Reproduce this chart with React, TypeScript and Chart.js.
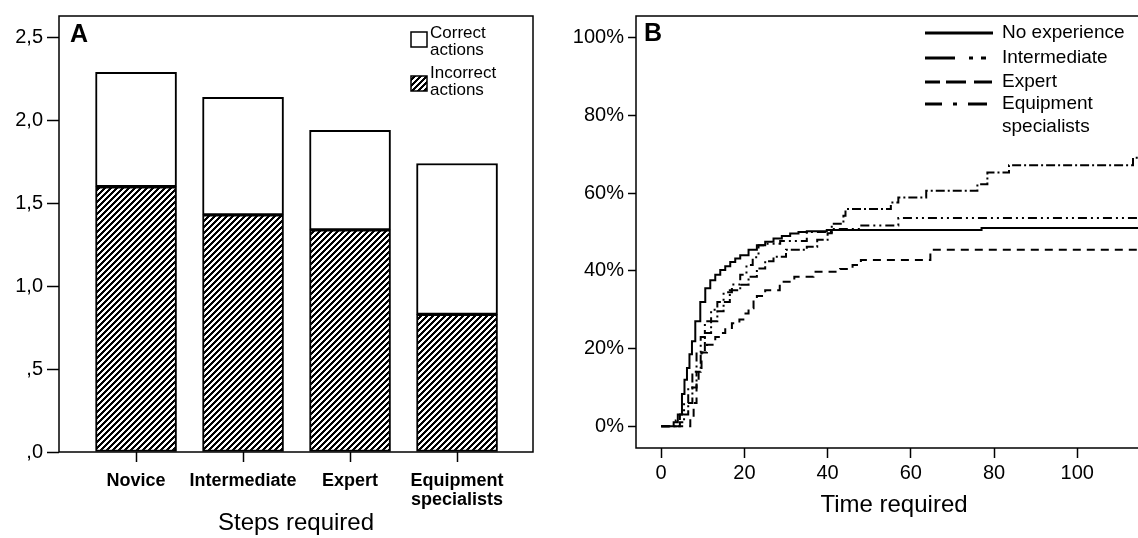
import React, { useEffect, useRef } from "react";
import { Chart, registerables } from "chart.js";
Chart.register(...registerables);

const FONT = '"Liberation Sans", Arial, Helvetica, sans-serif';

// ---------- Panel A data ----------
const categoryLabels: (string | string[])[] = ["Novice", "Intermediate", "Expert", ["Equipment", "specialists"]];
const incorrectActions = [1.60, 1.43, 1.34, 0.83];
const totalActions = [2.29, 2.14, 1.94, 1.74];
const yTicksA = [0, 0.5, 1, 1.5, 2, 2.5];
const yTickLabelsA = [",0", ",5", "1,0", "1,5", "2,0", "2,5"];
const legendA = [["Correct", "actions"], ["Incorrect", "actions"]];

// ---------- Panel B data ----------
const noExpT = [0, 2, 3, 4, 5, 5.6, 6.2, 6.8, 7.4, 8.2, 9.4, 10.6, 11.8, 13, 14.2, 15.4, 16.6, 17.8, 19, 21, 23, 25, 27, 29, 31, 33, 35, 39.8, 77, 114.6];
const noExpP = [0, 0, 1, 3, 8.3, 12, 15, 18.5, 21.9, 27, 32, 35.5, 37.6, 39, 40.2, 41.2, 42.3, 43.2, 44, 45.4, 46.6, 47.5, 48.3, 49, 49.6, 50, 50.2, 50.5, 51, 51];

const interT = [0, 2.5, 3.5, 4.5, 5.5, 6.5, 7.5, 8.5, 9.5, 10.5, 12, 13.5, 15, 17, 19, 20.5, 22, 23.4, 25, 28.6, 35, 41, 47.8, 57, 114.6];
const interP = [0, 0, 1.5, 3, 6, 10, 14, 19, 23, 27, 30, 32, 34.5, 36.5, 39, 41.5, 43.5, 46.6, 47, 47.7, 50, 50.8, 51.7, 53.6, 53.6];

const expertT = [0, 6.4, 7, 7.8, 8.5, 9, 9.7, 11, 13, 14.5, 15.4, 17, 18.8, 20, 21, 22.2, 23, 25, 28.5, 32, 36.6, 43, 46, 48, 64.7, 114.6];
const expertP = [0, 0, 2, 6, 11, 15, 19, 21, 23, 24, 25.3, 26.5, 27.5, 29, 30.4, 32.5, 33.5, 35, 37.2, 38.5, 39.8, 40.5, 41.5, 42.8, 45.4, 45.4];

const equipT = [0, 3, 4.5, 5.5, 6.5, 7.5, 8.5, 9.5, 10.5, 12, 13.5, 15, 16.5, 19, 21, 23, 25, 27, 30, 35, 37.5, 40, 41, 43.8, 44.3, 55.2, 57, 63.7, 76, 78.4, 83.6, 113.4, 114.6];
const equipP = [0, 0, 1, 3, 6, 10, 14, 19, 24, 27, 29.6, 32, 35, 36.4, 38.5, 40.6, 42.5, 43.6, 45.4, 46.2, 48, 49.7, 52.1, 54.2, 55.9, 57.6, 58.9, 60.6, 62.3, 65.3, 67.2, 69.1, 69.1];

const seriesNames = ["No experience", "Intermediate", "Expert", "Equipment specialists"];
const legendLinesB = [["No experience"], ["Intermediate"], ["Expert"], ["Equipment", "specialists"]];
const xTicksB = [0, 20, 40, 60, 80, 100];
const yTicksB = [0, 20, 40, 60, 80, 100];

const plotDash = [[], [9, 4, 2, 4, 2, 4], [8, 6], [9, 3, 2, 3]];
const legendDash = [[], [30, 14, 4, 8, 5, 100], [15, 6, 20, 8, 18, 100], [17, 11, 4, 11, 19, 100]];

const B_LEFT = 560;

function makeHatch(): CanvasPattern | string {
  const n = 6;
  const pc = document.createElement("canvas");
  pc.width = n;
  pc.height = n;
  const c = pc.getContext("2d");
  if (!c) return "#000";
  const img = c.createImageData(n, n);
  for (let y = 0; y < n; y++) {
    for (let x = 0; x < n; x++) {
      const white = (x + y) % n < 3;
      const i = (y * n + x) * 4;
      const v = white ? 255 : 0;
      img.data[i] = v;
      img.data[i + 1] = v;
      img.data[i + 2] = v;
      img.data[i + 3] = 255;
    }
  }
  c.putImageData(img, 0, 0);
  const p = c.createPattern(pc, "repeat");
  return p || "#000";
}

export default function App() {
  const refA = useRef<HTMLCanvasElement | null>(null);
  const refB = useRef<HTMLCanvasElement | null>(null);

  useEffect(() => {
    const hatch = makeHatch();
    const correctActions = totalActions.map((t, i) => +(t - incorrectActions[i]).toFixed(3));

    const panelAPlugin = {
      id: "panelA",
      afterDraw(chart: any) {
        const { ctx, chartArea } = chart;
        ctx.save();
        ctx.strokeStyle = "#000";
        ctx.lineWidth = 1.5;
        ctx.strokeRect(chartArea.left, chartArea.top, chartArea.right - chartArea.left, chartArea.bottom - chartArea.top);
        ctx.fillStyle = "#000";
        ctx.font = `bold 25px ${FONT}`;
        ctx.textAlign = "left";
        ctx.textBaseline = "middle";
        ctx.fillText("A", 70, 35);
        // legend
        ctx.lineWidth = 1.5;
        ctx.fillStyle = "#fff";
        ctx.fillRect(411, 32, 16, 15);
        ctx.strokeRect(411, 32, 16, 15);
        ctx.fillStyle = hatch as any;
        ctx.fillRect(411, 76, 16, 15);
        ctx.strokeRect(411, 76, 16, 15);
        ctx.fillStyle = "#000";
        ctx.font = `17px ${FONT}`;
        const rows = [[33, 50], [73, 90]];
        legendA.forEach((lines, k) => {
          lines.forEach((t, j) => ctx.fillText(t, 430, rows[k][j]));
        });
        ctx.restore();
      },
    };

    const chartA = new Chart(refA.current as HTMLCanvasElement, {
      type: "bar",
      data: {
        datasets: [
          {
            label: "Incorrect actions",
            data: incorrectActions.map((v, i) => ({ x: i, y: v })),
            backgroundColor: hatch as any,
            borderColor: "#000",
            borderWidth: 2,
            borderSkipped: false,
            barThickness: 81,
          },
          {
            label: "Correct actions",
            data: correctActions.map((v, i) => ({ x: i, y: v })),
            backgroundColor: "#fff",
            borderColor: "#000",
            borderWidth: 2,
            borderSkipped: false,
            barThickness: 81,
          },
        ],
      } as any,
      options: {
        animation: false,
        responsive: false,
        layout: { padding: { top: 10, right: 27, left: 0, bottom: 0 } },
        plugins: { legend: { display: false }, tooltip: { enabled: false } },
        scales: {
          x: {
            type: "linear",
            min: -0.72,
            max: 3.71,
            offset: false,
            stacked: true,
            afterBuildTicks: (s: any) => {
              s.ticks = categoryLabels.map((_, i) => ({ value: i }));
            },
            afterFit: (s: any) => {
              s.height = 86;
            },
            ticks: {
              callback: (v: any) => categoryLabels[Math.round(v)],
              font: { family: FONT, size: 18, weight: "bold", lineHeight: 1.05 },
              color: "#000",
              padding: 10,
              autoSkip: false,
              maxRotation: 0,
            },
            grid: { display: true, offset: false, drawOnChartArea: false, drawTicks: true, tickLength: 10, tickWidth: 1.5, tickColor: "#000" },
            border: { display: false },
            title: {
              display: true,
              text: "Steps required",
              font: { family: FONT, size: 24, lineHeight: 1.2 },
              color: "#000",
              padding: { top: 0, bottom: 0 },
            },
          },
          y: {
            type: "linear",
            min: 0,
            max: 2.63,
            stacked: true,
            afterBuildTicks: (s: any) => {
              s.ticks = yTicksA.map((v) => ({ value: v }));
            },
            afterFit: (s: any) => {
              s.width = 59;
            },
            ticks: {
              callback: (v: any) => yTickLabelsA[yTicksA.indexOf(v)],
              font: { family: FONT, size: 20 },
              color: "#000",
              padding: 4,
            },
            grid: { display: true, drawOnChartArea: false, drawTicks: true, tickLength: 12, tickWidth: 1.5, tickColor: "#000" },
            border: { display: false },
          },
        },
      } as any,
      plugins: [panelAPlugin],
    });

    const panelBPlugin = {
      id: "panelB",
      afterDraw(chart: any) {
        const { ctx, chartArea } = chart;
        const L = chartArea.left, T = chartArea.top, R = chart.width, Bm = chartArea.bottom;
        ctx.save();
        ctx.strokeStyle = "#000";
        ctx.lineWidth = 1.5;
        ctx.beginPath();
        ctx.moveTo(R, T);
        ctx.lineTo(L, T);
        ctx.lineTo(L, Bm);
        ctx.lineTo(R, Bm);
        ctx.stroke();
        ctx.fillStyle = "#000";
        ctx.font = `bold 25px ${FONT}`;
        ctx.textAlign = "left";
        ctx.textBaseline = "middle";
        ctx.fillText("B", 644 - B_LEFT, 34);
        // x axis title
        ctx.font = `24px ${FONT}`;
        ctx.textAlign = "center";
        ctx.fillText("Time required", 894 - B_LEFT, 505);
        // legend
        const rowY = [33, 58, 82, 104];
        ctx.textAlign = "left";
        ctx.font = `19px ${FONT}`;
        legendLinesB.forEach((lines, k) => {
          ctx.setLineDash(legendDash[k]);
          ctx.lineWidth = 3;
          ctx.beginPath();
          ctx.moveTo(925 - B_LEFT, rowY[k]);
          ctx.lineTo(993 - B_LEFT, rowY[k]);
          ctx.stroke();
          ctx.setLineDash([]);
          lines.forEach((t, j) => ctx.fillText(t, 1002 - B_LEFT, rowY[k] + j * 23));
        });
        ctx.restore();
      },
    };

    const seriesT = [noExpT, interT, expertT, equipT];
    const seriesP = [noExpP, interP, expertP, equipP];

    const chartB = new Chart(refB.current as HTMLCanvasElement, {
      type: "line",
      data: {
        datasets: seriesNames.map((name, k) => ({
          label: name,
          data: seriesT[k].map((t, i) => ({ x: t, y: seriesP[k][i] })),
          borderColor: "#000",
          borderWidth: 2,
          borderDash: plotDash[k],
          stepped: "before",
          pointRadius: 0,
          fill: false,
        })),
      } as any,
      options: {
        animation: false,
        responsive: false,
        layout: { padding: { top: 12, right: 0, left: 0, bottom: 0 } },
        plugins: { legend: { display: false }, tooltip: { enabled: false } },
        scales: {
          x: {
            type: "linear",
            min: -6.05,
            max: 114.6,
            afterBuildTicks: (s: any) => {
              s.ticks = xTicksB.map((v) => ({ value: v }));
            },
            afterFit: (s: any) => {
              s.height = 90;
            },
            ticks: {
              callback: (v: any) => String(v),
              font: { family: FONT, size: 20 },
              color: "#000",
              padding: 3,
              autoSkip: false,
              maxRotation: 0,
            },
            grid: { display: true, drawOnChartArea: false, drawTicks: true, tickLength: 10, tickWidth: 1.5, tickColor: "#000" },
            border: { display: false },
          },
          y: {
            type: "linear",
            min: -5.6,
            max: 105.6,
            afterBuildTicks: (s: any) => {
              s.ticks = yTicksB.map((v) => ({ value: v }));
            },
            afterFit: (s: any) => {
              s.width = 76;
            },
            ticks: {
              callback: (v: any) => `${v}%`,
              font: { family: FONT, size: 20 },
              color: "#000",
              padding: 4,
            },
            grid: { display: true, drawOnChartArea: false, drawTicks: true, tickLength: 8, tickWidth: 1.5, tickColor: "#000" },
            border: { display: false },
          },
        },
      } as any,
      plugins: [panelBPlugin],
    });

    return () => {
      chartA.destroy();
      chartB.destroy();
    };
  }, []);

  return (
    <div style={{ position: "fixed", left: 0, top: 0, width: 1138, height: 538, background: "#fff", overflow: "hidden" }}>
      <canvas ref={refA} width={B_LEFT} height={538} style={{ position: "absolute", left: 0, top: 0 }} />
      <canvas ref={refB} width={1138 - B_LEFT} height={538} style={{ position: "absolute", left: B_LEFT, top: 0 }} />
    </div>
  );
}
